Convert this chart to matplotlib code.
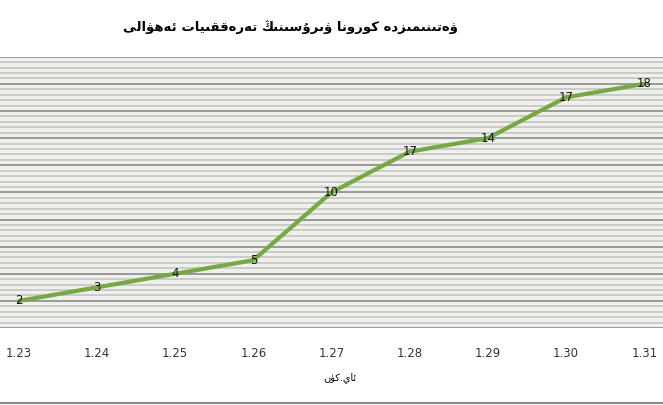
"""Uyghur line chart: COVID case count by date."""

import matplotlib

matplotlib.use("Agg")
import matplotlib.pyplot as plt
from matplotlib.lines import Line2D
from matplotlib.ticker import MultipleLocator

dates = ["1.23", "1.24", "1.25", "1.26", "1.27", "1.28", "1.29", "1.30", "1.31"]
cases = [2, 3, 4, 5, 10, 13, 14, 17, 18]
point_labels = ["2", "3", "4", "5", "10", "17", "14", "17", "18"]
title = "ۋەتىنىمىزدە كورونا ۋىرۇسىنىڭ تەرەققىيات ئەھۋالى"
xlabel = "ئاي.كۈن"

# Arabic-script presentation forms (isolated, final, initial, medial).
FORMS = {
    "ا": ("\uFE8D", "\uFE8E", None, None),
    "ت": ("\uFE95", "\uFE96", "\uFE97", "\uFE98"),
    "د": ("\uFEA9", "\uFEAA", None, None),
    "ر": ("\uFEAD", "\uFEAE", None, None),
    "ز": ("\uFEAF", "\uFEB0", None, None),
    "س": ("\uFEB1", "\uFEB2", "\uFEB3", "\uFEB4"),
    "ق": ("\uFED5", "\uFED6", "\uFED7", "\uFED8"),
    "ك": ("\uFED9", "\uFEDA", "\uFEDB", "\uFEDC"),
    "ل": ("\uFEDD", "\uFEDE", "\uFEDF", "\uFEE0"),
    "م": ("\uFEE1", "\uFEE2", "\uFEE3", "\uFEE4"),
    "ن": ("\uFEE5", "\uFEE6", "\uFEE7", "\uFEE8"),
    "و": ("\uFEED", "\uFEEE", None, None),
    "ي": ("\uFEF1", "\uFEF2", "\uFEF3", "\uFEF4"),
    "ى": ("\uFEEF", "\uFEF0", "\uFBE8", "\uFBE9"),
    "ئ": ("\uFE89", "\uFE8A", "\uFE8B", "\uFE8C"),
    "ھ": ("\uFBAA", "\uFBAB", "\uFBAC", "\uFBAD"),
    "ە": ("\uFEE9", "\uFEEA", None, None),
    "ۇ": ("\uFBD7", "\uFBD8", None, None),
    "ۈ": ("\uFBDB", "\uFBDC", None, None),
    "ۋ": ("\uFBDE", "\uFBDF", None, None),
    "ڭ": ("\uFBD3", "\uFBD4", "\uFBD5", "\uFBD6"),
}


def shape(text):
    """Very small Arabic-script shaper: pick joined forms, then reverse for LTR drawing."""
    out = []
    for i, ch in enumerate(text):
        f = FORMS.get(ch)
        if f is None:
            out.append(ch)
            continue
        prev = FORMS.get(text[i - 1]) if i > 0 else None
        nxt = FORMS.get(text[i + 1]) if i + 1 < len(text) else None
        join_prev = prev is not None and prev[2] is not None
        join_next = nxt is not None and f[2] is not None
        if join_prev and join_next:
            out.append(f[3])
        elif join_prev:
            out.append(f[1])
        elif join_next:
            out.append(f[2])
        else:
            out.append(f[0])
    return "".join(reversed(out))


plt.rcParams["font.family"] = ["DejaVu Sans"]

fig = plt.figure(figsize=(6.63, 4.05), dpi=100)
ax = fig.add_axes([0.0, 0.19, 1.0, 0.67])
ax.set_facecolor("#efefeb")

x = list(range(len(dates)))
ax.plot(x, cases, color="#77a843", lw=3, solid_capstyle="round", zorder=3)
for xi, yi, lab in zip(x, cases, point_labels):
    ax.text(xi, yi, lab, ha="center", va="center", fontsize=8.5, color="#111111", zorder=4)

ax.set_xlim(-0.24, 8.24)
ax.set_ylim(0, 20)
ax.yaxis.set_major_locator(MultipleLocator(2))
ax.yaxis.set_minor_locator(MultipleLocator(0.4))
ax.grid(axis="y", which="minor", color="#c8c8c4", lw=1.3)
ax.grid(axis="y", which="major", color="#999999", lw=1.4)
ax.set_axisbelow(True)
ax.set_yticklabels([])
ax.tick_params(axis="y", which="both", length=0)

ax.set_xticks(x)
ax.set_xticklabels(dates, fontsize=8.5, color="#333333")
ax.tick_params(axis="x", length=0, pad=14)
for s in ax.spines.values():
    s.set_visible(False)

fig.text(0.438, 0.933, shape(title), ha="center", va="center", fontsize=9.5, fontweight="bold")
fig.text(0.513, 0.067, shape(xlabel), ha="center", va="center", fontsize=7)
fig.add_artist(Line2D([0, 1], [0.006, 0.006], color="#888888", lw=1.5, transform=fig.transFigure))

fig.savefig("out.png", dpi=100)
